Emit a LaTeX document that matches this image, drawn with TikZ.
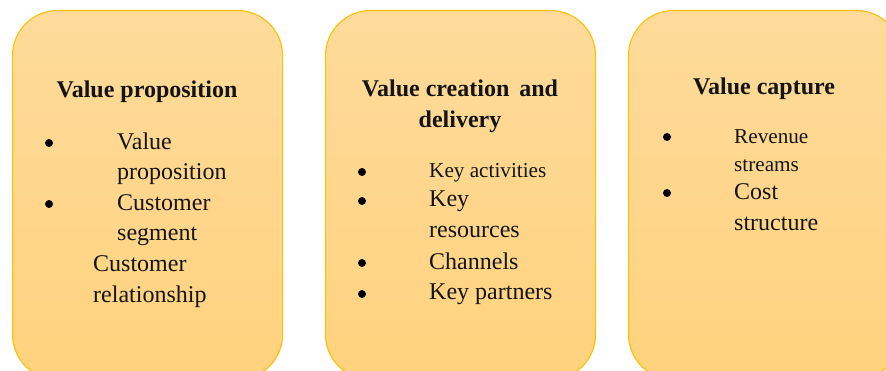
\documentclass[tikz,border=0pt]{standalone}
\usepackage{fontspec}
\setmainfont{Liberation Serif}
\definecolor{boxtop}{RGB}{254,219,155}
\definecolor{boxbot}{RGB}{255,210,125}
\definecolor{boxline}{RGB}{255,192,0}
\definecolor{ink}{RGB}{20,20,20}
\begin{document}
\begin{tikzpicture}[x=1pt,y=-1pt,
  panel/.style={draw=boxline, line width=1.1pt, rounded corners=45pt,
    top color=boxtop, bottom color=boxbot, minimum width=270pt,
    minimum height=369pt, inner sep=0pt, anchor=north west},
  title/.style={anchor=base, inner sep=0pt, text=ink,
    font=\fontsize{24}{28}\selectfont\bfseries},
  item/.style={anchor=base west, inner sep=0pt, text=ink,
    font=\fontsize{24}{28}\selectfont},
  smallitem/.style={anchor=base west, inner sep=0pt, text=ink,
    font=\fontsize{21.2}{26}\selectfont},
  dot/.style={circle, fill=black, inner sep=0pt, minimum size=8pt}]
\useasboundingbox (0,0) rectangle (886,371);
\begin{scope}
\clip (0,0) rectangle (886,371);
\node[panel] (p1) at (12,10) {};
\node[panel] (p2) at (325,10) {};
\node[panel, minimum width=273pt] (p3) at (628,10) {};
\end{scope}
% Panel 1
\node[title] (t1) at (147,98) {Value proposition};
\node[dot] (b11) at (49,143) {};
\node[item] (a11) at (117,150) {Value};
\node[item] (a12) at (117,180) {proposition};
\node[dot] (b12) at (49,204) {};
\node[item] (a13) at (117,211) {Customer};
\node[item] (a14) at (117,241) {segment};
\node[item] (a15) at (93,272) {Customer};
\node[item] (a16) at (93,302) {relationship};
% Panel 2
\node[title] (t2) at (460,97) {Value creation\hspace{4pt} and};
\node[title] (t3) at (460,128) {delivery};
\node[dot] (b21) at (362,172) {};
\node[smallitem] (c11) at (429,178) {Key activities};
\node[dot] (b22) at (362,201) {};
\node[item] (c12) at (429,207) {Key};
\node[item] (c13) at (429,238) {resources};
\node[dot] (b23) at (362,263) {};
\node[item] (c14) at (429,270) {Channels};
\node[dot] (b24) at (362,294) {};
\node[item] (c15) at (429,300) {Key partners};
% Panel 3
\node[title] (t4) at (764,95) {Value capture};
\node[dot] (b31) at (667,137) {};
\node[smallitem] (d11) at (734,144) {Revenue};
\node[smallitem] (d12) at (734,172) {streams};
\node[dot] (b32) at (667,193) {};
\node[item] (d13) at (734,200) {Cost};
\node[item] (d14) at (734,231) {structure};
\end{tikzpicture}
\end{document}
